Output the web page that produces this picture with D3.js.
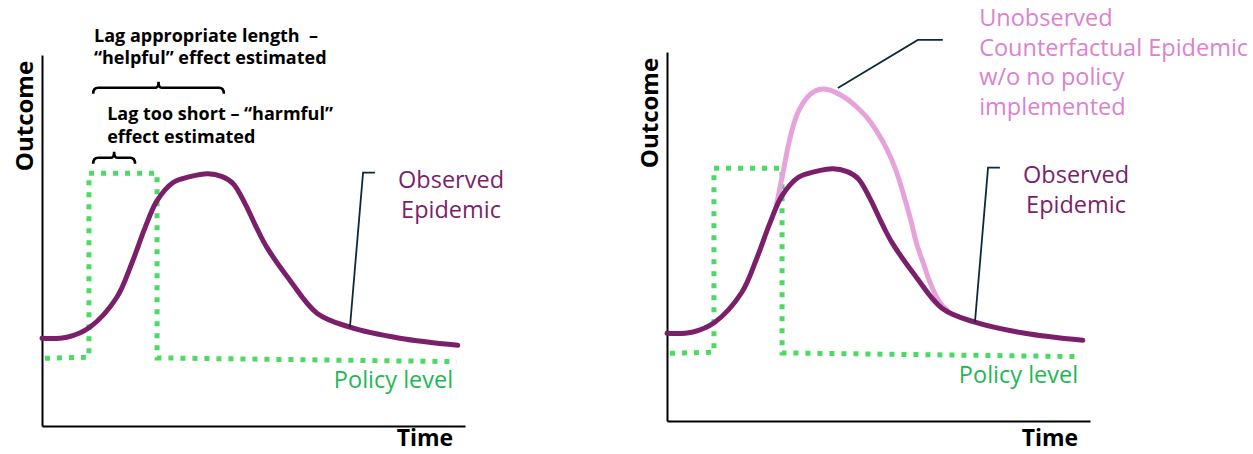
<!DOCTYPE html>
<html>
<head>
<meta charset="utf-8">
<script src="https://cdn.jsdelivr.net/npm/d3@7"></script>
<style>
  body { margin: 0; background: #fff; }
  svg { display: block; font-family: "Open Sans", sans-serif; }
  text { white-space: pre; }
</style>
</head>
<body>
<div id="graph"></div>
<script>
// observed epidemic (same curve in both panels), time 0-100, outcome 0-100
const obsTime = [0, 5.9, 11.3, 17.7, 21.3, 24.3, 27.2, 31.0, 35.0, 39.2, 42.6, 45.2, 48.0, 50.8, 53.2, 58.6, 65.0, 72.8, 84.6, 98.3];
const obsValue = [23.7, 24.0, 26.7, 34.8, 44.2, 53.4, 60.9, 65.8, 67.4, 68.2, 67.4, 65.5, 60.1, 53.4, 48.2, 39.4, 30.5, 26.7, 23.7, 21.8];

// counterfactual epidemic (right panel only)
const cfTime = [25.9, 27.4, 28.6, 29.8, 31.2, 33.1, 35.0, 36.9, 39.7, 42.6, 44.9, 47.3, 49.6, 52.0, 54.2, 55.9, 57.6, 59.1, 60.8, 62.2, 64.5, 66.2];
const cfValue = [58.5, 67.0, 74.0, 79.6, 84.0, 87.4, 89.2, 89.7, 88.9, 87.0, 84.8, 82.0, 78.3, 73.4, 67.5, 61.3, 54.4, 47.6, 42.0, 37.4, 32.0, 30.0];

// policy level (step)
const policyTime = [0.7, 11.1, 11.1, 27.2, 27.2, 98.0];
const policyLevel = [18.3, 18.6, 68.3, 68.3, 18.4, 17.4];

// leader lines [time, value]
const obsLeader = [[72.8, 26.7], [75.9, 68.5], [78.7, 68.5]];
const cfLeader = [[40.4, 90.0], [59.3, 103.0], [65.2, 103.0]];

// labels
const obsLabel = ["Observed", "Epidemic"];
const cfLabel = ["Unobserved", "Counterfactual Epidemic", "w/o no policy", "implemented"];
const policyLabel = "Policy level";
const lagLongLabel = ["Lag appropriate length  \u2013", "\u201chelpful\u201d effect estimated"];
const lagShortLabel = ["Lag too short \u2013 \u201charmful\u201d", "effect estimated"];

// lag brackets [start, end, level]
const lagLong = [12.1, 43.0, 91.4];
const lagShort = [12.1, 22.0, 72.5];

const purple = "#7b1f6b", pink = "#e6a3db", pinkText = "#db82cf",
      green = "#4cd964", greenText = "#1fb755", leaderColor = "#0c2a38";

const width = 1253, height = 454;
const svg = d3.select("#graph").append("svg")
  .attr("width", width).attr("height", height);

const panels = [
  {x0: 42, x1: 465, y0: 426, y1: 55, counterfactual: false},
  {x0: 667, x1: 1090, y0: 421, y1: 52, counterfactual: true}
];

const obsData = obsTime.map((t, i) => [t, obsValue[i]]);
const cfData = cfTime.map((t, i) => [t, cfValue[i]]);
const policyData = policyTime.map((t, i) => [t, policyLevel[i]]);

panels.forEach(p => {
  const x = d3.scaleLinear().domain([0, 100]).range([p.x0, p.x1]);
  const y = d3.scaleLinear().domain([0, 100]).range([p.y0, p.y0 - 370]);
  const yAxisScale = d3.scaleLinear().domain([0, 100]).range([p.y0, p.y1]);
  const g = svg.append("g");

  // axes
  g.append("g").attr("transform", `translate(0,${p.y0})`)
    .call(d3.axisBottom(x).ticks(0).tickSizeOuter(0))
    .select(".domain").attr("stroke", "#000").attr("stroke-width", 2);
  g.append("g").attr("transform", `translate(${p.x0},0)`)
    .call(d3.axisLeft(yAxisScale).ticks(0).tickSizeOuter(0))
    .select(".domain").attr("stroke", "#000").attr("stroke-width", 2);

  g.append("text")
    .attr("transform", `translate(${p.x0 - 9},${p.y1 + 61}) rotate(-90)`)
    .attr("text-anchor", "middle")
    .attr("font-weight", "bold").attr("font-size", 24)
    .text("Outcome");
  g.append("text")
    .attr("x", x(97.2)).attr("y", Math.min(p.y0 + 25, 446))
    .attr("text-anchor", "end")
    .attr("font-weight", "bold").attr("font-size", 23)
    .text("Time");

  const line = d3.line().x(d => x(d[0])).y(d => y(d[1]));

  // policy level
  g.append("path")
    .datum(policyData)
    .attr("d", line)
    .attr("fill", "none")
    .attr("stroke", green)
    .attr("stroke-width", 5)
    .attr("stroke-dasharray", "5 7");

  g.append("text")
    .attr("x", x(97.2)).attr("y", y(10.2))
    .attr("text-anchor", "end")
    .attr("font-size", 23.5)
    .attr("fill", greenText)
    .text(policyLabel);

  const smooth = d3.line().x(d => x(d[0])).y(d => y(d[1])).curve(d3.curveCatmullRom);

  // counterfactual
  if (p.counterfactual) {
    g.append("path")
      .datum(cfData)
      .attr("d", smooth)
      .attr("fill", "none")
      .attr("stroke", pink)
      .attr("stroke-width", 5)
      .attr("stroke-linecap", "round");

    g.append("path")
      .datum(cfLeader)
      .attr("d", line)
      .attr("fill", "none")
      .attr("stroke", leaderColor)
      .attr("stroke-width", 1.8);

    g.append("text")
      .attr("font-size", 23.5)
      .attr("fill", pinkText)
      .selectAll("tspan").data(cfLabel).join("tspan")
      .attr("x", x(73.8))
      .attr("y", (d, i) => y(106.8) + i * 29.7)
      .text(d => d);
  }

  // observed epidemic
  g.append("path")
    .datum(obsData)
    .attr("d", smooth)
    .attr("fill", "none")
    .attr("stroke", purple)
    .attr("stroke-width", 5)
    .attr("stroke-linecap", "round");

  g.append("path")
    .datum(obsLeader)
    .attr("d", line)
    .attr("fill", "none")
    .attr("stroke", leaderColor)
    .attr("stroke-width", 1.8);

  g.append("text")
    .attr("font-size", 23.5)
    .attr("fill", purple)
    .attr("text-anchor", "middle")
    .selectAll("tspan").data(obsLabel).join("tspan")
    .attr("x", x(96.7))
    .attr("y", (d, i) => y(64.2) + i * 30)
    .text(d => d);

  // lag brackets, left panel only
  if (!p.counterfactual) {
    const brace = (b) => {
      const x1 = x(b[0]), x2 = x(b[1]), yy = y(b[2]), xm = (x1 + x2) / 2;
      return `M${x1},${yy + 6} Q${x1},${yy} ${x1 + 5},${yy} L${xm - 3},${yy} Q${xm},${yy} ${xm},${yy - 6}` +
             ` Q${xm},${yy} ${xm + 3},${yy} L${x2 - 5},${yy} Q${x2},${yy} ${x2},${yy + 6}`;
    };
    [lagLong, lagShort].forEach(b => {
      g.append("path").attr("d", brace(b))
        .attr("fill", "none").attr("stroke", "#000").attr("stroke-width", 2.6);
    });

    g.append("text")
      .attr("font-size", 18).attr("font-weight", "bold")
      .selectAll("tspan").data(lagLongLabel).join("tspan")
      .attr("x", x(12.3))
      .attr("y", (d, i) => y(103.8) + i * 22)
      .text(d => d);

    g.append("text")
      .attr("font-size", 18).attr("font-weight", "bold")
      .selectAll("tspan").data(lagShortLabel).join("tspan")
      .attr("x", x(15.4))
      .attr("y", (d, i) => y(82.7) + i * 23)
      .text(d => d);
  }
});
</script>
</body>
</html>
